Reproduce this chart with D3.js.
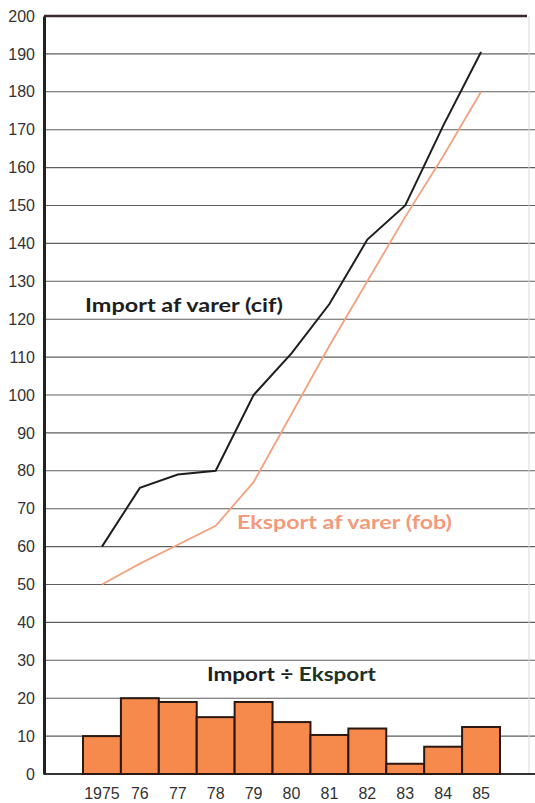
<!DOCTYPE html>
<html>
<head>
<meta charset="utf-8">
<script src="https://cdn.jsdelivr.net/npm/d3@7"></script>
<style>
  body { margin: 0; background: #fff; }
  svg { display: block; font-family: Lato, "Open Sans", sans-serif; }
</style>
</head>
<body>
<script>
// data (milliarder kr.)
var years = ["1975", "76", "77", "78", "79", "80", "81", "82", "83", "84", "85"];
var importVals = [60, 75.5, 79, 80, 100, 111, 124, 141, 150, 171, 190.5];
var eksportVals = [50, 55.5, 60.5, 65.5, 77, 95, 113, 130, 147, 163, 180];
var diffVals = [10, 20, 19, 15, 19, 13.7, 10.3, 12, 2.7, 7.2, 12.4];
var yTicks = d3.range(0, 201, 10);

var width = 535, height = 803;
var plotLeft = 44, plotTop = 16, plotBottom = 774;

var svg = d3.select("body")
  .append("svg")
    .attr("width", width)
    .attr("height", height);

var y = d3.scaleLinear()
  .domain([0, 200])
  .range([plotBottom, plotTop]);

var x = d3.scaleBand()
  .domain(years)
  .range([83, 500])
  .padding(0);

// gridlines
svg.append("g")
  .selectAll("line")
  .data(yTicks.filter(function(d) { return d > 0 && d < 200; }))
  .enter().append("line")
    .attr("x1", plotLeft)
    .attr("x2", width)
    .attr("y1", function(d) { return y(d); })
    .attr("y2", function(d) { return y(d); })
    .attr("stroke", "#5e5e5e")
    .attr("stroke-width", 1.1);

// top border + baseline
svg.append("line")
  .attr("x1", plotLeft).attr("x2", 527)
  .attr("y1", y(200)).attr("y2", y(200))
  .attr("stroke", "#3a2a2e").attr("stroke-width", 2.5);
svg.append("line")
  .attr("x1", 529).attr("x2", 529)
  .attr("y1", y(200)).attr("y2", y(0))
  .attr("stroke", "#d8d8d8").attr("stroke-width", 1);
svg.append("line")
  .attr("x1", plotLeft).attr("x2", width)
  .attr("y1", y(0)).attr("y2", y(0))
  .attr("stroke", "#333").attr("stroke-width", 2);

// y axis
var yAxis = svg.append("g")
  .attr("transform", "translate(" + plotLeft + ",0)")
  .call(d3.axisLeft(y).tickValues(yTicks).tickSize(0).tickPadding(9));
yAxis.select(".domain").attr("stroke", "#222").attr("stroke-width", 3);
yAxis.selectAll("text")
  .attr("font-size", 16)
  .attr("fill", "#333");

// bars
svg.append("g")
  .selectAll("rect")
  .data(years)
  .enter().append("rect")
    .attr("x", function(d) { return x(d); })
    .attr("y", function(d, i) { return y(diffVals[i]); })
    .attr("width", x.bandwidth())
    .attr("height", function(d, i) { return y(0) - y(diffVals[i]); })
    .attr("fill", "#f58a4c")
    .attr("stroke", "#2b1810")
    .attr("stroke-width", 2);

// x axis labels
var xAxis = svg.append("g")
  .attr("transform", "translate(0," + y(0) + ")")
  .call(d3.axisBottom(x).tickSize(0).tickPadding(14));
xAxis.select(".domain").remove();
xAxis.selectAll("text")
  .attr("font-size", 16)
  .attr("fill", "#333");

// lines
var line = d3.line()
  .x(function(d) { return x(d.year) + x.bandwidth() / 2; })
  .y(function(d) { return y(d.value); });

svg.append("path")
  .datum(years.map(function(yr, i) { return {year: yr, value: eksportVals[i]}; }))
  .attr("fill", "none")
  .attr("stroke", "#f2a27e")
  .attr("stroke-width", 1.8)
  .attr("d", line);

svg.append("path")
  .datum(years.map(function(yr, i) { return {year: yr, value: importVals[i]}; }))
  .attr("fill", "none")
  .attr("stroke", "#1e1e1e")
  .attr("stroke-width", 2)
  .attr("d", line);

// labels
svg.append("text")
  .attr("x", 85).attr("y", 312)
  .attr("font-size", 18).attr("font-weight", "bold")
  .attr("fill", "#1e1e1e")
  .attr("textLength", 198).attr("lengthAdjust", "spacingAndGlyphs")
  .text("Import af varer (cif)");

svg.append("text")
  .attr("x", 237).attr("y", 529)
  .attr("font-size", 18).attr("font-weight", "bold")
  .attr("fill", "#f39a7c")
  .attr("textLength", 215).attr("lengthAdjust", "spacingAndGlyphs")
  .text("Eksport af varer (fob)");

var diffLabel = svg.append("text")
  .attr("x", 207).attr("y", 681)
  .attr("font-size", 18).attr("font-weight", "bold")
  .attr("fill", "#1e1e1e")
  .attr("textLength", 169).attr("lengthAdjust", "spacingAndGlyphs");
diffLabel.append("tspan").text("Import ÷ ");
diffLabel.append("tspan").attr("fill", "#1d3324").text("Eksport");
</script>
</body>
</html>
